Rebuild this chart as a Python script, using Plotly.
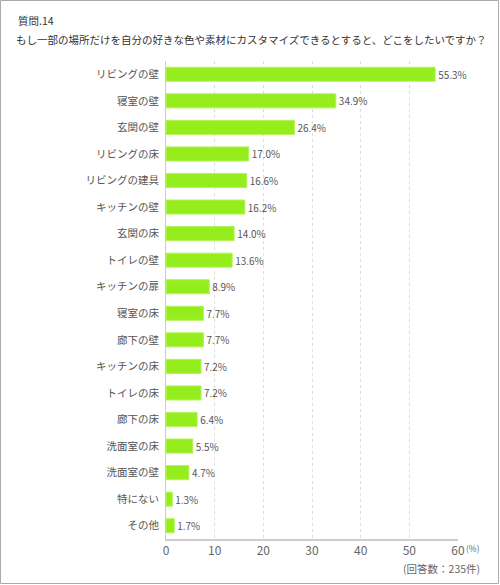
import plotly.graph_objects as go

categories = ['リビングの壁', '寝室の壁', '玄関の壁', 'リビングの床', 'リビングの建具',
              'キッチンの壁', '玄関の床', 'トイレの壁', 'キッチンの扉', '寝室の床',
              '廊下の壁', 'キッチンの床', 'トイレの床', '廊下の床', '洗面室の床',
              '洗面室の壁', '特にない', 'その他']
values = [55.3, 34.9, 26.4, 17.0, 16.6, 16.2, 14.0, 13.6, 8.9, 7.7,
          7.7, 7.2, 7.2, 6.4, 5.5, 4.7, 1.3, 1.7]
x_ticks = [0, 10, 20, 30, 40, 50, 60]

W, H = 500, 585
ML, MR, MT, MB = 166, 42, 61, 46
PW, PH = W - ML - MR, H - MT - MB

def px(x):
    return (x - ML) / PW

def py(y):
    return (H - MB - y) / PH

font = 'Noto Sans CJK JP'

fig = go.Figure(go.Bar(
    x=values, y=categories, orientation='h',
    marker=dict(color='#96ED1E', line=dict(color='#B5F25C', width=1)),
    width=0.53,
    text=['%.1f%%' % v for v in values], textposition='outside',
    textfont=dict(size=12, color='#555555', family=font),
    cliponaxis=False,
))

fig.update_layout(
    width=W, height=H,
    margin=dict(l=ML, r=MR, t=MT, b=MB),
    plot_bgcolor='white', paper_bgcolor='white',
    showlegend=False,
    font=dict(family=font, color='#555555'),
    xaxis=dict(range=[0, 60], tickvals=x_ticks, ticktext=[str(t) for t in x_ticks],
               showgrid=True, gridcolor='#dddddd', griddash='dot', gridwidth=1,
               showline=True, linecolor='#cccccc', linewidth=2,
               zeroline=False, ticks='', ticklabelstandoff=0,
               tickfont=dict(size=12, color='#666666')),
    yaxis=dict(autorange='reversed', showline=True, linecolor='#cccccc', linewidth=1,
               ticks='', ticklabelstandoff=4, tickfont=dict(size=10.5, color='#555555'),
               showgrid=False),
)

fig.add_annotation(text='質問.14', xref='paper', yref='paper', x=px(16), y=py(11),
                   xanchor='left', yanchor='top', showarrow=False,
                   font=dict(size=10.5, color='#333333'))
fig.add_annotation(text='もし一部の場所だけを自分の好きな色や素材にカスタマイズできるとすると、どこをしたいですか？',
                   xref='paper', yref='paper', x=px(14), y=py(30),
                   xanchor='left', yanchor='top', showarrow=False,
                   font=dict(size=10.5, color='#333333'))
fig.add_annotation(text='(%)', xref='paper', yref='paper', x=px(464), y=py(548),
                   xanchor='left', yanchor='middle', showarrow=False,
                   font=dict(size=8.5, color='#666666'))
fig.add_annotation(text='(回答数：235件)', xref='paper', yref='paper', x=px(482), y=py(568),
                   xanchor='right', yanchor='middle', showarrow=False,
                   font=dict(size=10.5, color='#666666'))

fig.add_shape(type='rect', xref='paper', yref='paper',
              x0=px(0.5), x1=px(W - 1.5), y0=py(0.5), y1=py(H - 1.5),
              line=dict(color='#aaaaaa', width=1))

fig.write_html('out.html', config={'displayModeBar': False},
               post_script="document.body.style.margin='0';")
